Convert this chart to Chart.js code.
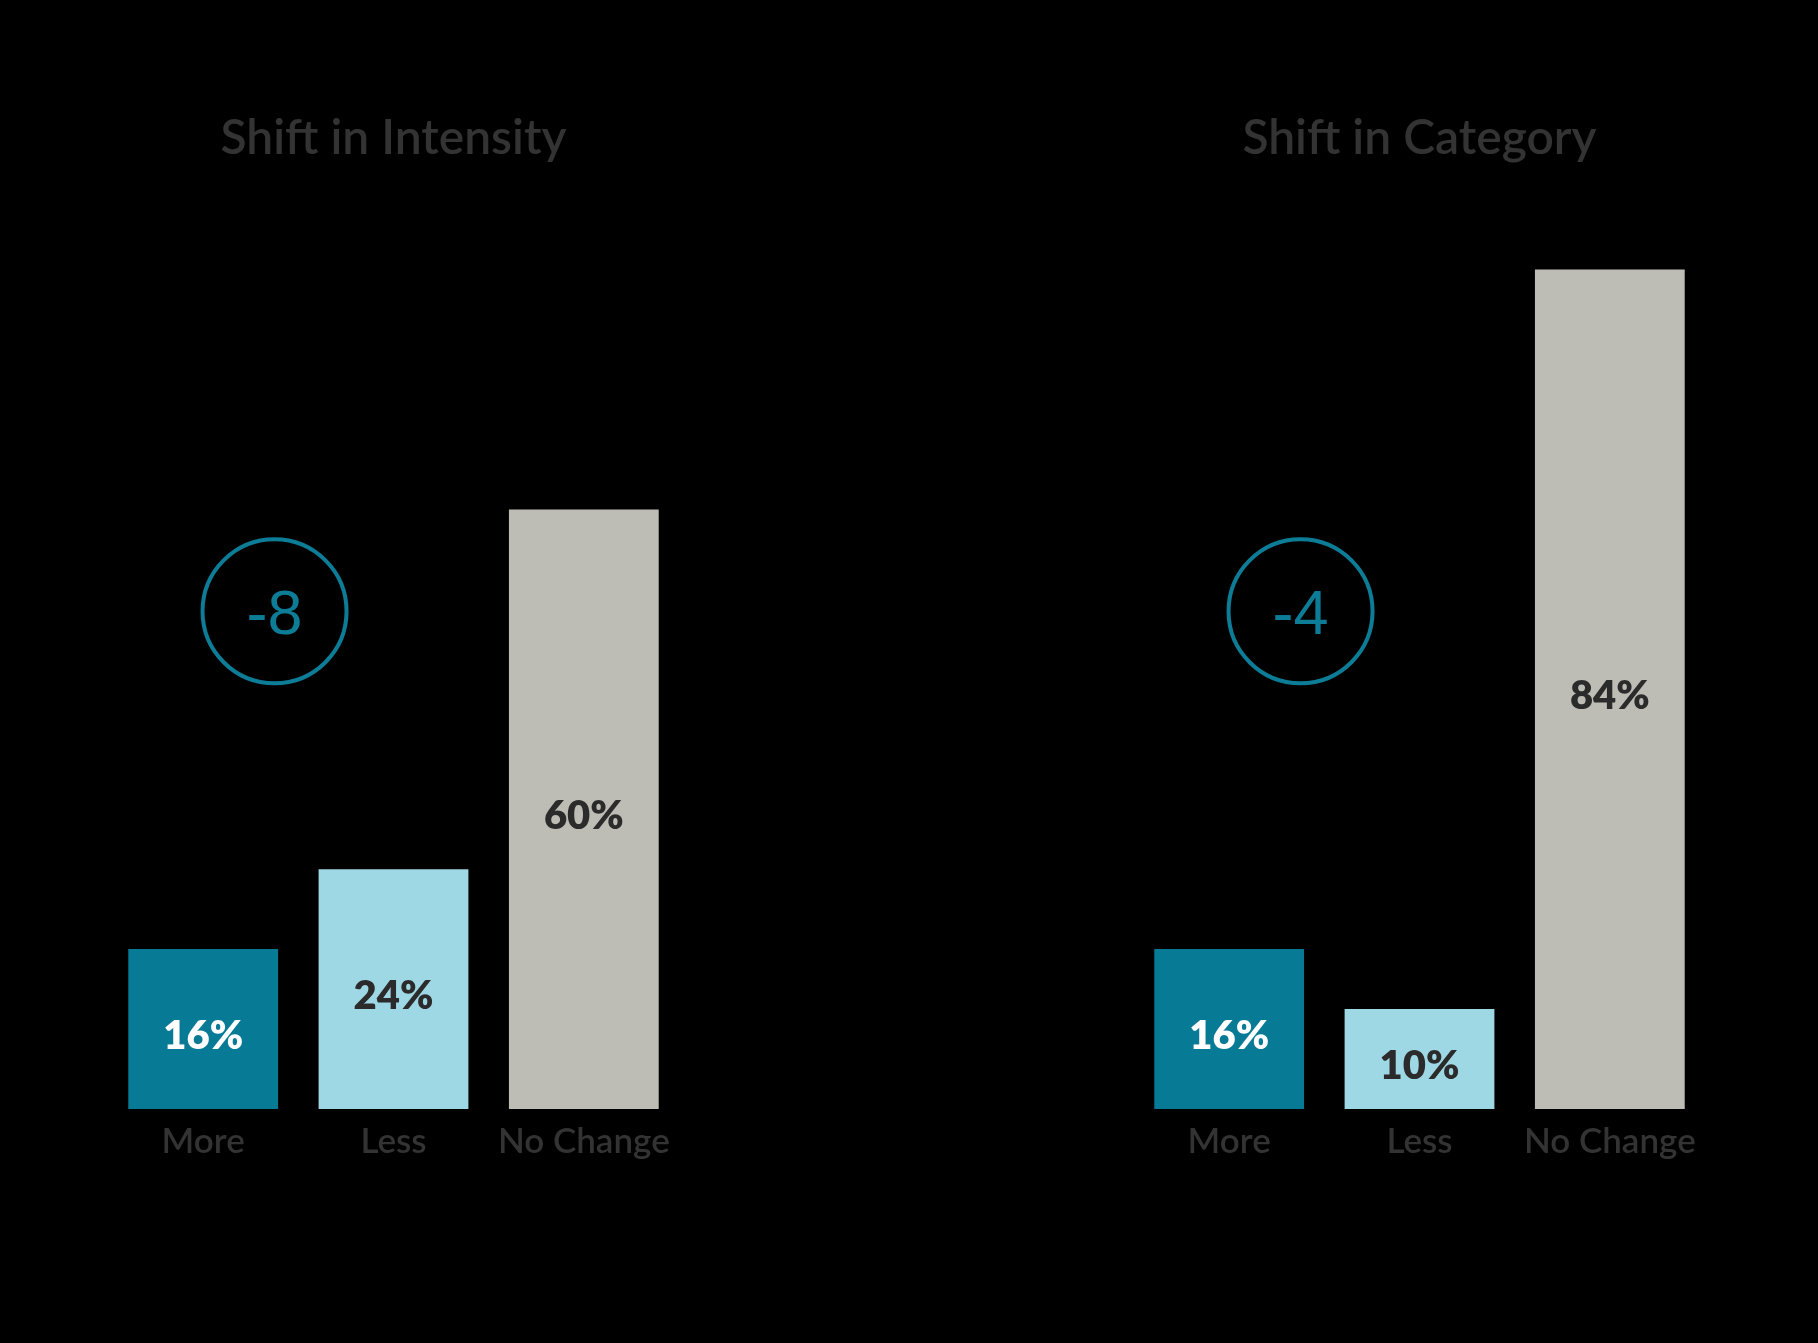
<!DOCTYPE html>
<html>
<head>
<meta charset="utf-8">
<script src="https://cdn.jsdelivr.net/npm/chart.js@4.4.1/dist/chart.umd.min.js"></script>
<style>
  html, body { margin: 0; padding: 0; background: #000; }
  .panel { position: absolute; top: 0; width: 909px; height: 1343px; }
  #left { left: 0; }
  #right { left: 909px; }
</style>
</head>
<body>
<div class="panel" id="left"><canvas id="intensityChart"></canvas></div>
<div class="panel" id="right"><canvas id="categoryChart"></canvas></div>
<script>
"use strict";

const categories = ["More", "Less", "No Change"];
const intensityValues = [16, 24, 60];
const categoryValues = [16, 10, 84];
const titles = ["Shift in Intensity", "Shift in Category"];
const netShift = ["-8", "-4"];

const barColors = ["#077a96", "#9fd8e5", "#bdbdb5"];
const labelColors = ["#ffffff", "#2b2b2b", "#2b2b2b"];
const teal = "#0d7d97";

// draws the % value inside each bar
const valueLabels = {
  id: "valueLabels",
  afterDatasetsDraw(chart) {
    const ctx = chart.ctx;
    const meta = chart.getDatasetMeta(0);
    const data = chart.data.datasets[0].data;
    ctx.save();
    ctx.font = "800 40px Lato";
    ctx.textAlign = "center";
    ctx.textBaseline = "middle";
    meta.data.forEach(function (bar, i) {
      ctx.fillStyle = labelColors[i];
      ctx.fillText(data[i] + "%", bar.x, (bar.y + bar.base) / 2 + 7);
    });
    ctx.restore();
  }
};

// circled net shift number, placed between More and Less
const netBadge = {
  id: "netBadge",
  afterDraw(chart, args, opts) {
    const ctx = chart.ctx;
    const x = chart.scales.x.getPixelForValue(0.375);
    const y = chart.scales.y.getPixelForValue(50) + 2;
    ctx.save();
    ctx.strokeStyle = teal;
    ctx.lineWidth = 4;
    ctx.beginPath();
    ctx.arc(x, y, 72, 0, Math.PI * 2);
    ctx.stroke();
    ctx.fillStyle = teal;
    ctx.font = "63px 'Liberation Sans'";
    ctx.textAlign = "center";
    ctx.textBaseline = "middle";
    ctx.fillText(opts.text, x, y + 5);
    ctx.restore();
  }
};

function makeChart(canvasId, values, title, shift, pad) {
  const ctx = document.getElementById(canvasId).getContext("2d");
  return new Chart(ctx, {
    type: "bar",
    data: {
      labels: categories,
      datasets: [{
        data: values,
        backgroundColor: barColors,
        barPercentage: 0.787,
        categoryPercentage: 1
      }]
    },
    options: {
      responsive: true,
      maintainAspectRatio: false,
      animation: false,
      layout: { padding: pad },
      plugins: {
        legend: { display: false },
        tooltip: { enabled: false },
        title: {
          display: true,
          text: title,
          color: "#333333",
          font: { family: "Lato", size: 48, weight: 600 },
          padding: { top: 0, bottom: 42 }
        },
        netBadge: { text: shift }
      },
      scales: {
        x: {
          grid: { display: false, drawTicks: false },
          border: { display: false },
          ticks: {
            color: "#333333",
            padding: 12,
            font: { family: "Lato", size: 35, weight: 600 }
          }
        },
        y: {
          display: false,
          min: 0,
          max: 90
        }
      }
    },
    plugins: [valueLabels, netBadge]
  });
}

makeChart("intensityChart", intensityValues, titles[0], netShift[0],
  { left: 108, right: 230, top: 110, bottom: 168 });
makeChart("categoryChart", categoryValues, titles[1], netShift[1],
  { left: 225, right: 113, top: 110, bottom: 168 });
</script>
</body>
</html>
